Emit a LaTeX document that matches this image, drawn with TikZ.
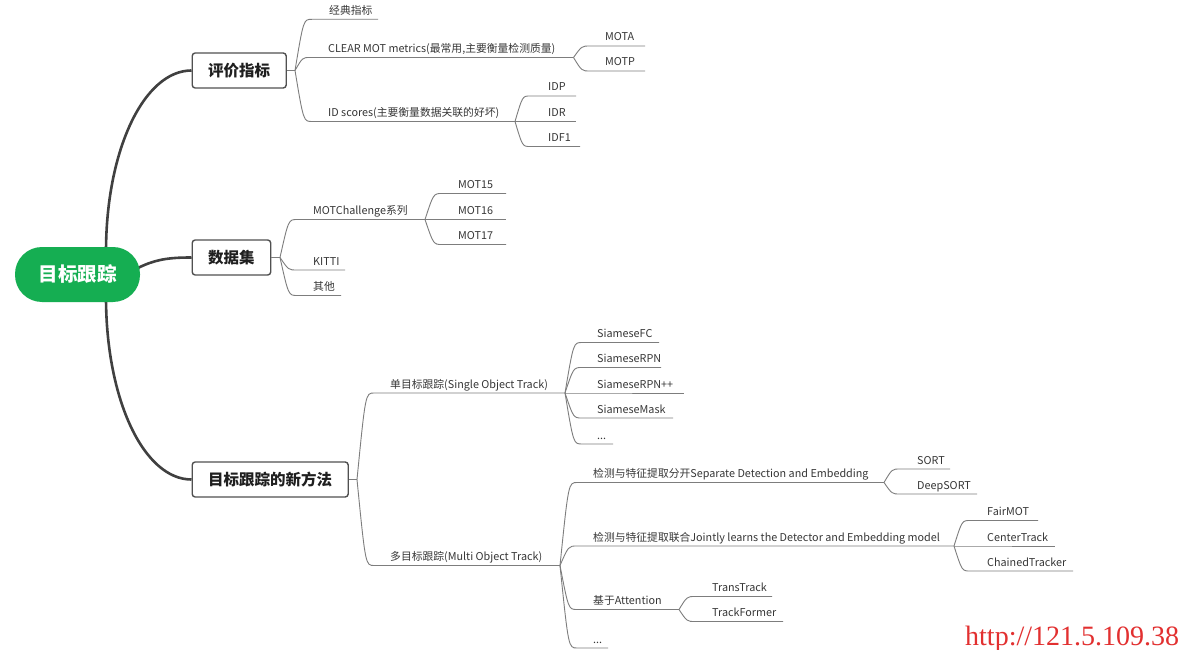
\documentclass[tikz,border=0pt]{standalone}
\usepackage{fontspec}
\setmainfont{Noto Sans CJK SC}
\newfontfamily\wmfont{Liberation Serif}
\usetikzlibrary{calc}
\definecolor{rootgreen}{RGB}{21,174,82}
\definecolor{trunkgray}{RGB}{64,64,64}
\definecolor{twiggray}{RGB}{125,125,125}
\definecolor{txtgray}{RGB}{55,55,55}
\definecolor{boxborder}{RGB}{80,80,80}
\definecolor{wmred}{RGB}{226,48,48}
\tikzset{
  lbl/.style={inner sep=0pt, text=txtgray, font=\fontsize{10.8}{13}\selectfont},
  twig/.style={draw=twiggray, line width=0.9pt},
  trunk/.style={draw=trunkgray, line width=2.6pt},
  mainbox/.style={draw=boxborder, line width=1.4pt, fill=white, rounded corners=3pt,
    minimum height=35pt, inner xsep=16pt, inner ysep=0pt, anchor=west,
    font=\fontsize{15.5}{17}\selectfont\bfseries, text=black!88},
  rootbox/.style={fill=rootgreen, rounded corners=27pt, minimum width=125pt,
    minimum height=55pt, inner sep=0pt, text=white,
    font=\fontsize{19.5}{22}\selectfont\bfseries},
  wm/.style={inner sep=0pt, text=wmred, font=\wmfont\fontsize{28}{30}\selectfont}
}
% #1 name, #2 parent branch, #3 underline start x, #4 underline end x, #5 underline y, #6 text x, #7 text
\newcommand{\mmleaf}[7]{%
  \coordinate (#1s) at (#3,#5);
  \coordinate (#1e) at (#4,#5);
  \node[lbl,anchor=base west] (#1) at (#6,#5-5) {#7};
  \draw[twig] (#2) .. controls ($(#2|-#1s)!0.5!(#1s)$) .. (#1s) -- (#1e);
}
\begin{document}
\begin{tikzpicture}[x=1pt,y=-1pt]
\useasboundingbox[fill=white] (0,0) rectangle (1178,650);

% level-1 boxes
\node[mainbox] (pj) at (191.5,70.5) {评价指标};
\node[mainbox] (sj) at (191.5,257.5) {数据集};
\node[mainbox] (xf) at (191.5,479.5) {目标跟踪的新方法};

% root
\coordinate (rtop) at (106,252);
\coordinate (rbot) at (106,297);
\coordinate (rright) at (136,269);
\draw[trunk] (rtop) .. controls (106,150) and (144,70.5) .. (pj.west);
\draw[trunk] (rbot) .. controls (106,400) and (144,479.5) .. (xf.west);
\draw[trunk] (rright) .. controls (155,259) and (170,257.5) .. (sj.west);
\node[rootbox] (root) at (77.5,274.5) {目标跟踪};

% branch points
\coordinate (b1) at (295,70.5);
\coordinate (b2) at (280,257.5);
\coordinate (b3) at (357,479.5);
\draw[twig] (pj.east) -- (b1);
\draw[twig] (sj.east) -- (b2);
\draw[twig] (xf.east) -- (b3);

% 评价指标
\mmleaf{jd}{b1}{312}{378}{19.3}{329}{经典指标}
\mmleaf{clear}{b1}{310}{573.5}{57.5}{328}{CLEAR MOT metrics(最常用,主要衡量检测质量)}
\mmleaf{ids}{b1}{312}{515}{121.5}{328}{ID scores(主要衡量数据关联的好坏)}
\mmleaf{mota}{cleare}{590}{645}{46}{605}{MOTA}
\mmleaf{motp}{cleare}{590}{645}{71}{605}{MOTP}
\mmleaf{idp}{idse}{530}{576}{96}{548}{IDP}
\mmleaf{idr}{idse}{530}{576}{121.5}{548}{IDR}
\mmleaf{idf}{idse}{530}{580}{146.5}{548}{IDF1}

% 数据集
\mmleaf{motc}{b2}{297}{425}{219.5}{313}{MOTChallenge系列}
\mmleaf{kitti}{b2}{297}{345}{270}{313}{KITTI}
\mmleaf{qt}{b2}{297}{341}{295.5}{313}{其他}
\mmleaf{mfa}{motce}{442}{506}{193.5}{458}{MOT15}
\mmleaf{mfb}{motce}{442}{506}{219.5}{458}{MOT16}
\mmleaf{mfc}{motce}{442}{506}{244.5}{458}{MOT17}

% 目标跟踪的新方法
\mmleaf{sot}{b3}{374}{565}{393}{390}{单目标跟踪(Single Object Track)}
\mmleaf{mot}{b3}{374}{560}{565.5}{390}{多目标跟踪(Multi Object Track)}
\mmleaf{sfc}{sote}{582}{659}{342.5}{597}{SiameseFC}
\mmleaf{srpn}{sote}{582}{661}{367.5}{597}{SiameseRPN}
\mmleaf{srpp}{sote}{582}{684}{393}{597}{SiameseRPN++}
\mmleaf{smask}{sote}{582}{673}{418}{597}{SiameseMask}
\mmleaf{sdots}{sote}{582}{613}{444}{597}{...}
\mmleaf{sep}{mote}{577}{884}{482.5}{593}{检测与特征提取分开Separate Detection and Embedding}
\mmleaf{joint}{mote}{577}{954}{546}{593}{检测与特征提取联合Jointly learns the Detector and Embedding model}
\mmleaf{att}{mote}{577}{679}{609.5}{593}{基于Attention}
\mmleaf{mdots}{mote}{577}{608}{648}{593}{...}
\mmleaf{sort}{sepe}{900}{950}{469}{917}{SORT}
\mmleaf{dsort}{sepe}{900}{977}{494}{917}{DeepSORT}
\mmleaf{fair}{jointe}{970}{1038}{520.5}{987}{FairMOT}
\mmleaf{ctr}{jointe}{970}{1055}{546}{987}{CenterTrack}
\mmleaf{chain}{jointe}{970}{1073}{571}{987}{ChainedTracker}
\mmleaf{trans}{atte}{695}{772}{596.5}{712}{TransTrack}
\mmleaf{tf}{atte}{695}{783}{621.5}{712}{TrackFormer}

% watermark
\node[wm,anchor=base west] (wmk) at (965,645) {http://121.5.109.38};
\end{tikzpicture}
\end{document}
